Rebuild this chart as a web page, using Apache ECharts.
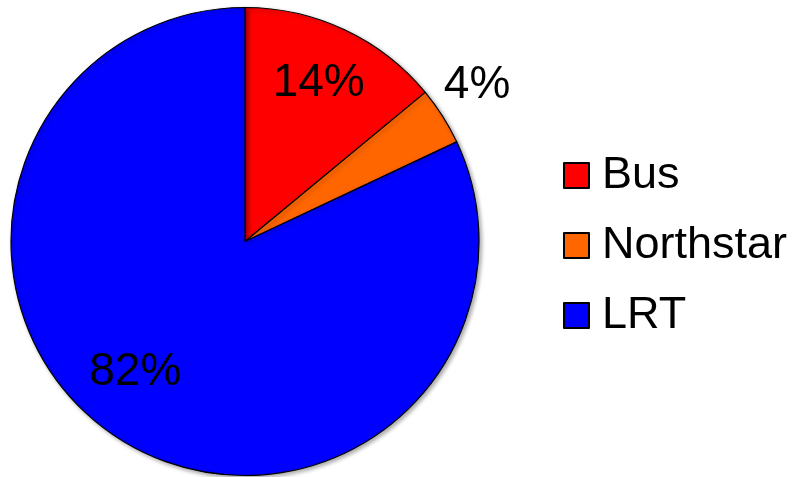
<!DOCTYPE html>
<html>
<head>
<meta charset="utf-8">
<script src="https://cdn.jsdelivr.net/npm/echarts@6/dist/echarts.min.js"></script>
<style>html,body{margin:0;padding:0;background:#fff;}#c{width:798px;height:477px;}</style>
</head>
<body>
<div id="c"></div>
<script>
const categories = ['Bus', 'Northstar', 'LRT'];
const values = [14, 4, 82];
const colors = ['#FF0000', '#FF6600', '#0000FF'];
const labelTexts = ['14%', '4%', '82%'];

const chart = echarts.init(document.getElementById('c'));
const data = categories.map((n, i) => ({ name: n, value: values[i], itemStyle: { color: colors[i] } }));
const labelData = categories.map((n, i) => ({ name: n, value: values[i] }));
const labelShift = { 0: [0, -2], 1: [86, -63], 2: [-17, -15] };

chart.setOption({
  animation: false,
  legend: {
    orient: 'vertical',
    left: 563,
    top: 153,
    padding: 0,
    itemWidth: 25,
    itemHeight: 25,
    itemGap: 25,
    icon: 'rect',
    data: categories,
    textStyle: { fontFamily: 'Liberation Sans, Arial, sans-serif', fontSize: 45, color: '#000', lineHeight: 44, padding: [0, 0, 0, 8] }
  },
  series: [
    {
      type: 'pie',
      center: [245, 241.5],
      radius: [0, 234],
      startAngle: 90,
      clockwise: true,
      silent: true,
      label: { show: false },
      labelLine: { show: false },
      itemStyle: { borderColor: '#000', borderWidth: 1.2, shadowBlur: 4, shadowColor: 'rgba(0,0,0,0.35)', shadowOffsetX: 2, shadowOffsetY: 2 },
      data: data
    },
    {
      type: 'pie',
      center: [245, 241.5],
      radius: [106, 234],
      startAngle: 90,
      clockwise: true,
      silent: true,
      legendHoverLink: false,
      itemStyle: { color: 'rgba(0,0,0,0)', borderWidth: 0 },
      label: {
        show: true,
        position: 'inside',
        formatter: p => labelTexts[p.dataIndex],
        fontFamily: 'Liberation Sans, Arial, sans-serif',
        fontSize: 46,
        color: '#000'
      },
      labelLine: { show: false },
      labelLayout: p => ({ dx: labelShift[p.dataIndex][0], dy: labelShift[p.dataIndex][1] }),
      data: labelData
    }
  ]
});
</script>
</body>
</html>
